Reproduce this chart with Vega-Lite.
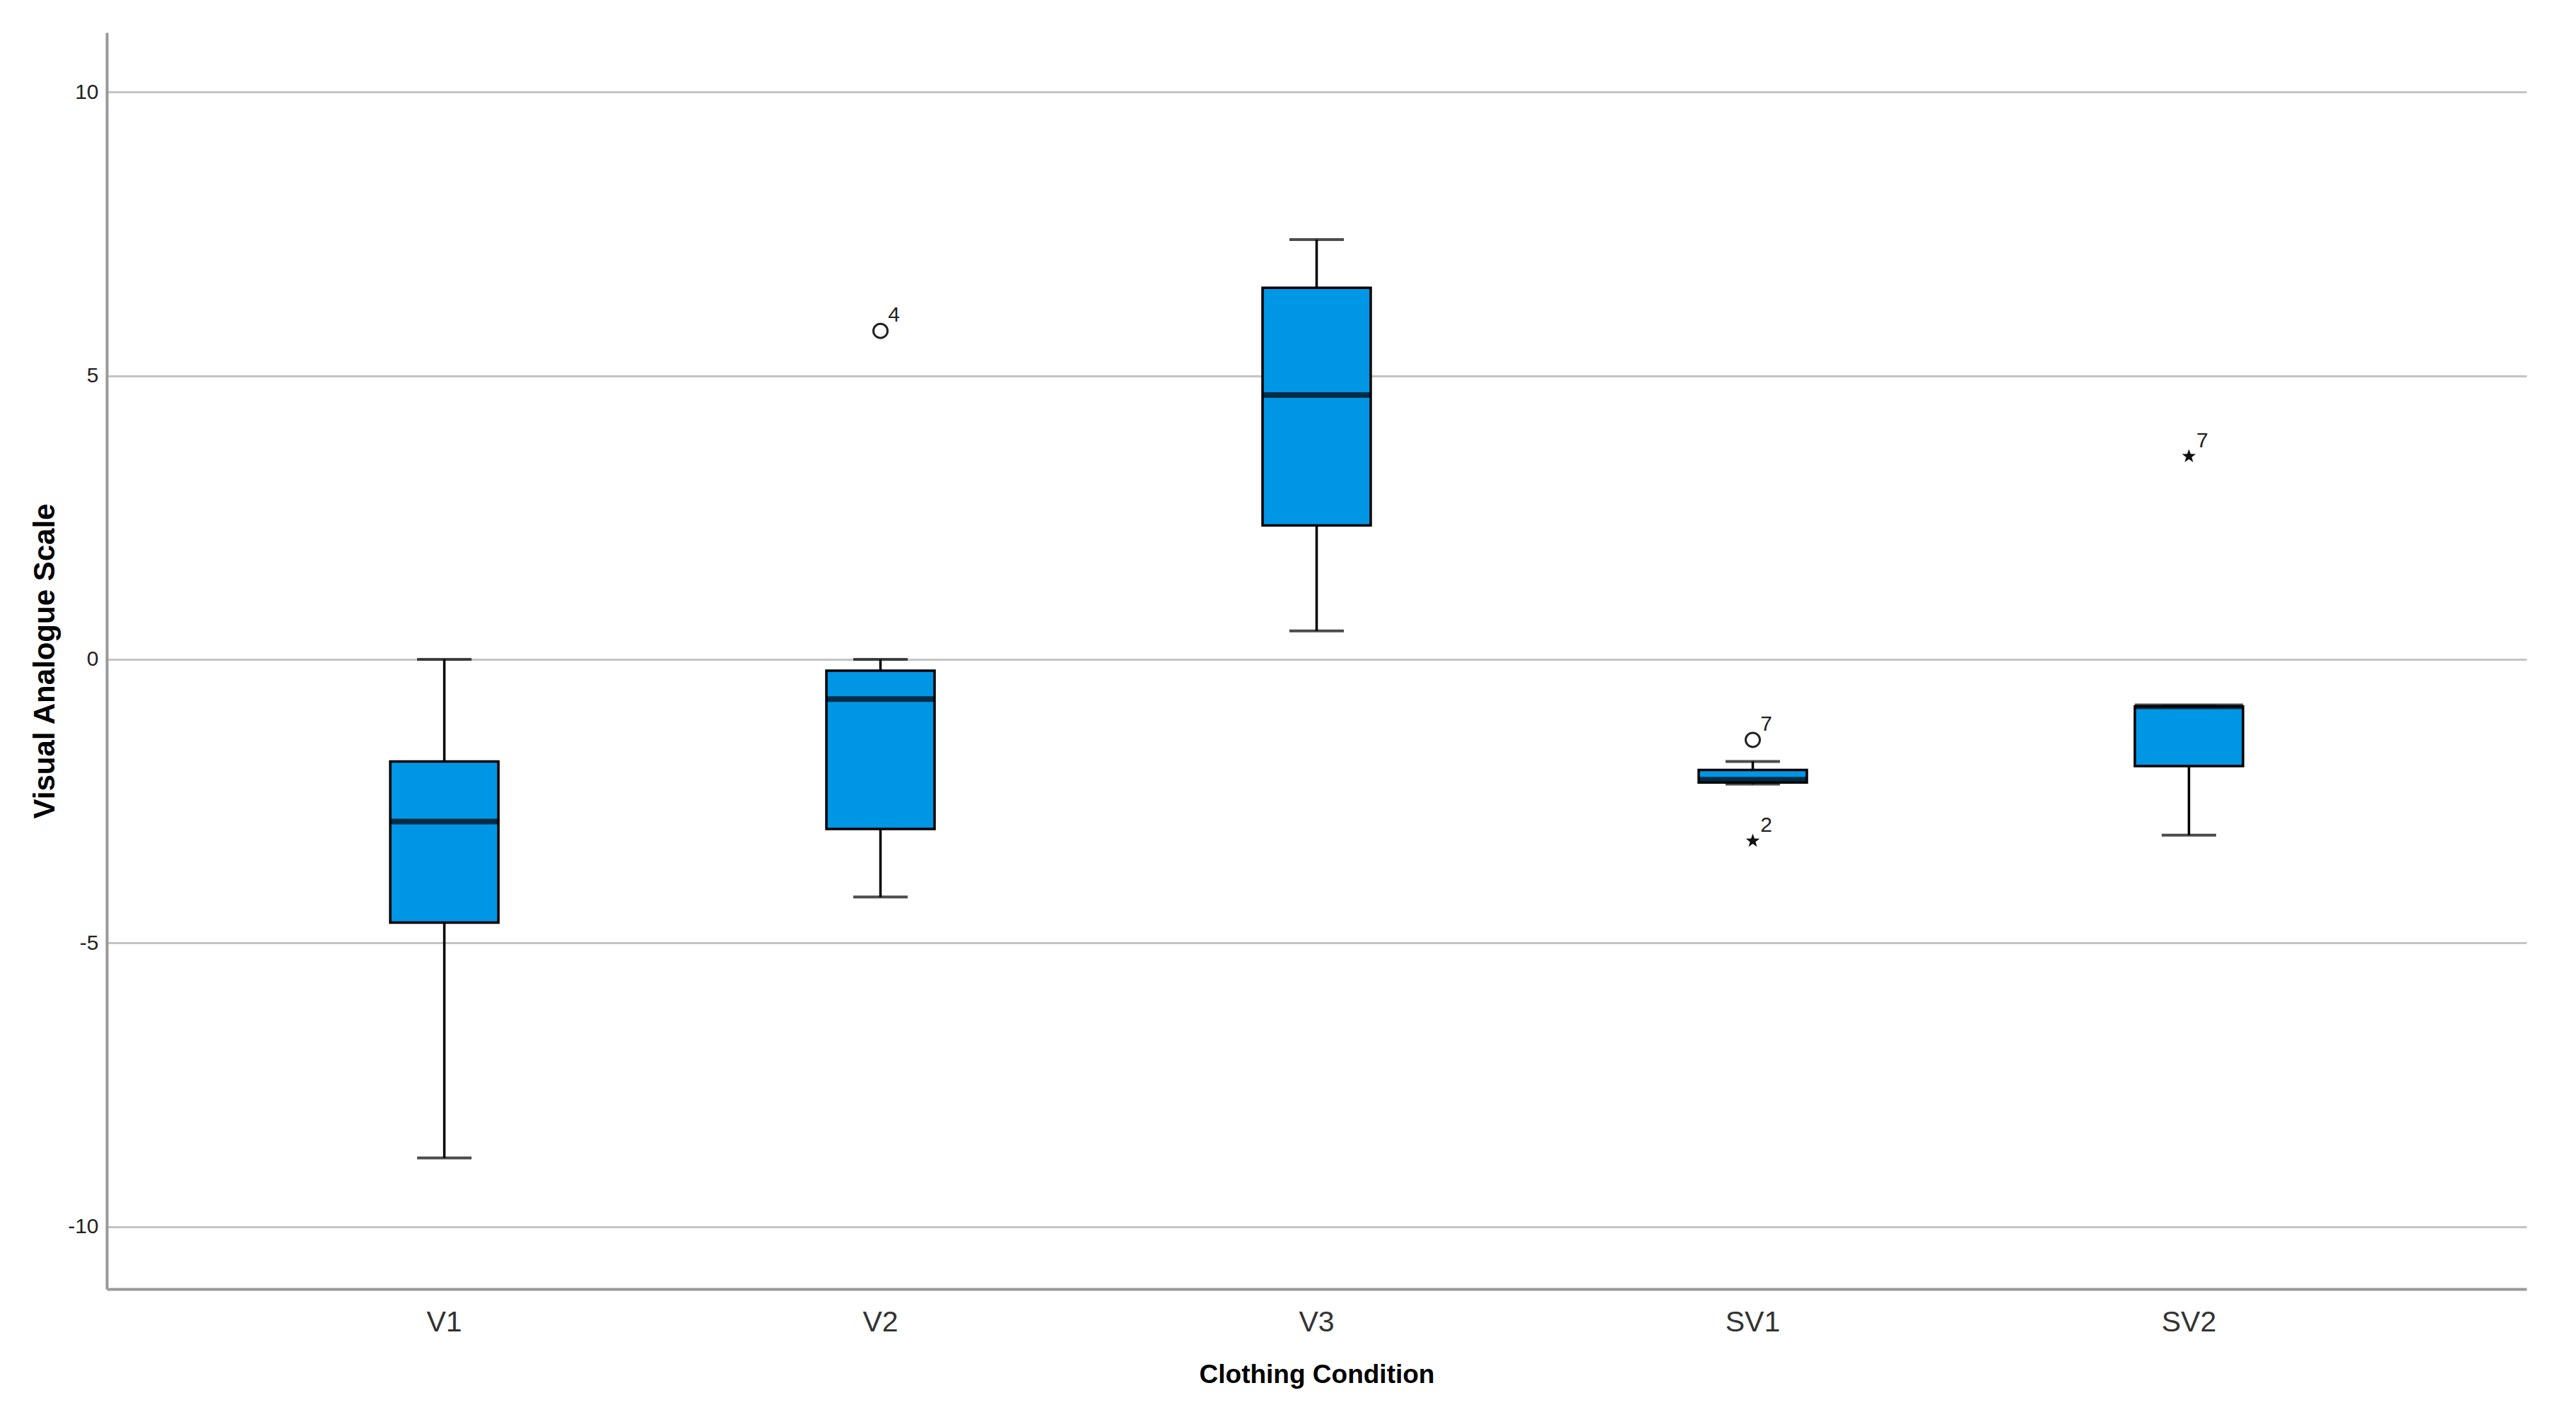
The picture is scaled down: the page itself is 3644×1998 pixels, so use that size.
{
  "$schema": "https://vega.github.io/schema/vega-lite/v6.json",
  "width": 3423,
  "height": 1778,
  "autosize": {"type": "none"},
  "padding": {"left": 151, "top": 46, "right": 70, "bottom": 174},
  "background": "white",
  "config": {
    "view": {"stroke": null},
    "font": "Liberation Sans"
  },
  "datasets": {
    "boxes": [
      {"cond": "V1", "lo": -8.79, "q1": -4.64, "med": -2.86, "q3": -1.80, "hi": 0.0},
      {"cond": "V2", "lo": -4.19, "q1": -2.99, "med": -0.70, "q3": -0.20, "hi": 0.0},
      {"cond": "V3", "lo": 0.50, "q1": 2.36, "med": 4.66, "q3": 6.55, "hi": 7.40},
      {"cond": "SV1", "lo": -2.20, "q1": -2.17, "med": -2.12, "q3": -1.95, "hi": -1.80},
      {"cond": "SV2", "lo": -3.10, "q1": -1.88, "med": -0.83, "q3": -0.83, "hi": -0.83}
    ],
    "circles": [
      {"cond": "V2", "v": 5.79, "id": "4"},
      {"cond": "SV1", "v": -1.42, "id": "7"}
    ],
    "stars": [
      {"cond": "SV1", "v": -3.20, "id": "2"},
      {"cond": "SV2", "v": 3.58, "id": "7"}
    ],
    "labels": [
      {"cond": "V2", "v": 5.79, "id": "4"},
      {"cond": "SV1", "v": -1.42, "id": "7"},
      {"cond": "SV1", "v": -3.20, "id": "2"},
      {"cond": "SV2", "v": 3.58, "id": "7"}
    ]
  },
  "layer": [
    {
      "data": {"name": "boxes"},
      "mark": {"type": "rule", "color": "#000000", "strokeWidth": 3.5},
      "encoding": {
        "x": {
          "field": "cond",
          "type": "nominal",
          "sort": ["V1", "V2", "V3", "SV1", "SV2"],
          "scale": {"type": "band", "paddingInner": 0.752, "paddingOuter": 0.65},
          "axis": {
            "orient": "bottom",
            "title": "Clothing Condition",
            "labelAngle": 0,
            "labelFontSize": 41,
            "labelColor": "#333333",
            "labelBaseline": "middle",
            "labelPadding": 47,
            "ticks": false,
            "domain": true,
            "domainColor": "#999999",
            "domainWidth": 4,
            "grid": false,
            "titleFontSize": 37,
            "titleFontWeight": "bold",
            "titleColor": "#000000",
            "titleBaseline": "middle",
            "titleY": 121
          }
        },
        "y": {
          "field": "lo",
          "type": "quantitative",
          "scale": {"domain": [-11.1, 11.05], "nice": false, "zero": false},
          "axis": {
            "title": "Visual Analogue Scale",
            "values": [-10, -5, 0, 5, 10],
            "labelExpr": "'' + datum.value",
            "labelFontSize": 30,
            "labelColor": "#222222",
            "labelPadding": 12,
            "ticks": false,
            "domain": true,
            "domainColor": "#999999",
            "domainWidth": 4,
            "grid": true,
            "gridColor": "#c4c4c4",
            "gridWidth": 3,
            "titleFontSize": 42,
            "titleFontWeight": "bold",
            "titleColor": "#000000",
            "titleBaseline": "middle",
            "titleX": -88
          }
        },
        "y2": {"field": "hi"}
      }
    },
    {
      "data": {"name": "boxes"},
      "mark": {"type": "bar", "fill": "#0096e6", "stroke": "#000000", "strokeWidth": 3.5},
      "encoding": {
        "x": {"field": "cond", "type": "nominal", "sort": ["V1", "V2", "V3", "SV1", "SV2"]},
        "y": {"field": "q1", "type": "quantitative"},
        "y2": {"field": "q3"}
      }
    },
    {
      "data": {"name": "boxes"},
      "mark": {"type": "tick", "color": "#000000", "size": 77, "thickness": 4, "orient": "horizontal"},
      "encoding": {
        "x": {"field": "cond", "type": "nominal", "sort": ["V1", "V2", "V3", "SV1", "SV2"]},
        "y": {"field": "lo", "type": "quantitative"}
      }
    },
    {
      "data": {"name": "boxes"},
      "mark": {"type": "tick", "color": "#000000", "size": 77, "thickness": 4, "orient": "horizontal"},
      "encoding": {
        "x": {"field": "cond", "type": "nominal", "sort": ["V1", "V2", "V3", "SV1", "SV2"]},
        "y": {"field": "hi", "type": "quantitative"}
      }
    },
    {
      "data": {"name": "boxes"},
      "mark": {"type": "tick", "color": "#000000", "size": 153, "thickness": 8, "orient": "horizontal"},
      "encoding": {
        "x": {"field": "cond", "type": "nominal", "sort": ["V1", "V2", "V3", "SV1", "SV2"]},
        "y": {"field": "med", "type": "quantitative"}
      }
    },
    {
      "data": {"name": "circles"},
      "mark": {"type": "point", "shape": "circle", "filled": false, "stroke": "#222222", "strokeWidth": 3, "size": 400, "opacity": 1},
      "encoding": {
        "x": {"field": "cond", "type": "nominal", "sort": ["V1", "V2", "V3", "SV1", "SV2"]},
        "y": {"field": "v", "type": "quantitative"}
      }
    },
    {
      "data": {"name": "labels"},
      "mark": {"type": "text", "fontSize": 30, "color": "#222222", "dx": 19, "dy": -22, "align": "center", "baseline": "middle"},
      "encoding": {
        "x": {"field": "cond", "type": "nominal", "sort": ["V1", "V2", "V3", "SV1", "SV2"]},
        "y": {"field": "v", "type": "quantitative"},
        "text": {"field": "id", "type": "nominal"}
      }
    },
    {
      "data": {"name": "stars"},
      "mark": {"type": "point", "shape": "M0,-1L0.235,-0.324L0.951,-0.309L0.380,0.124L0.588,0.809L0,0.4L-0.588,0.809L-0.380,0.124L-0.951,-0.309L-0.235,-0.324Z", "filled": true, "color": "#111111", "size": 420, "opacity": 1},
      "encoding": {
        "x": {"field": "cond", "type": "nominal", "sort": ["V1", "V2", "V3", "SV1", "SV2"]},
        "y": {"field": "v", "type": "quantitative"}
      }
    }
  ]
}
